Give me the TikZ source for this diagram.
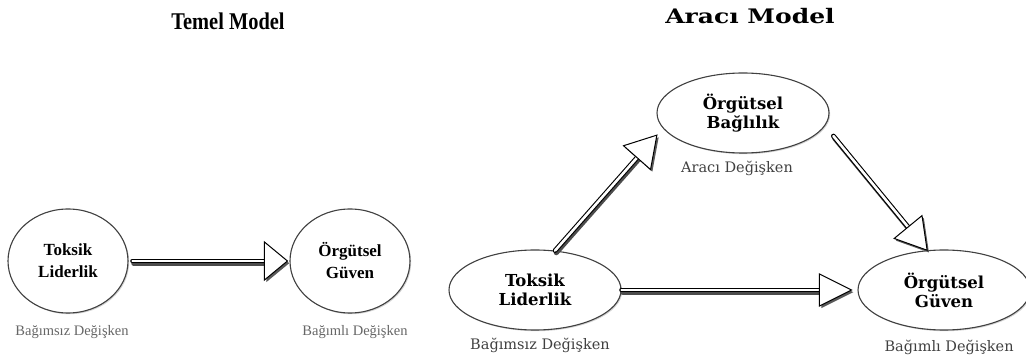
\documentclass[tikz,border=0pt]{standalone}
\usepackage{fontspec}
\setmainfont{Liberation Serif}
\newfontfamily\widefont{DejaVu Serif}
\usetikzlibrary{calc,shadows,shapes.geometric}

\tikzset{
  varnode/.style={ellipse, draw=black!75, line width=1.1pt, fill=white, inner sep=0pt, align=center,
    drop shadow={shadow xshift=1.2pt, shadow yshift=-1.2pt, opacity=0.35}},
  leftvar/.style={varnode, minimum width=120pt, minimum height=104pt,
    font=\fontsize{17}{22}\selectfont\bfseries},
  rightvar/.style={varnode, minimum width=172pt, minimum height=80pt,
    font=\widefont\fontsize{16.5}{19}\selectfont\bfseries},
  leftlabel/.style={text=black!60, font=\fontsize{14.5}{16}\selectfont},
  rightlabel/.style={text=black!75, font=\widefont\fontsize{14.5}{16}\selectfont},
  shaftline/.style={line width=1.1pt, draw=black, double=white, double distance=2.6pt, line cap=round},
  shaftshadow/.style={line width=5pt, draw=black!70, line cap=round},
  tiphead/.style={draw=black, fill=white, line width=1pt, line join=miter},
  tipshadow/.style={fill=black!65},
}

% hollow fat arrow: start, tip, head length, head half width
\newcommand{\fatarrow}[4]{%
  \coordinate (fs) at (#1);
  \coordinate (ft) at (#2);
  \coordinate (fb) at ($(ft)!#3!(fs)$);
  \coordinate (fc1) at ($(fb)!#4!90:(ft)$);
  \coordinate (fc2) at ($(fb)!#4!-90:(ft)$);
  \draw[shaftshadow] ($(fs)+(1.2,-2.2)$) -- ($(fb)+(1.2,-2.2)$);
  \fill[tipshadow] ($(ft)+(1.8,-2.2)$) -- ($(fc1)+(1.8,-2.2)$) -- ($(fc2)+(1.8,-2.2)$) -- cycle;
  \draw[shaftline] (fs) -- ($(fb)!2pt!(ft)$);
  \draw[tiphead] (ft) -- (fc1) -- (fc2) -- cycle;
}

\begin{document}
\begin{tikzpicture}[x=1pt, y=1pt]
  \useasboundingbox (0,0) rectangle (1026,356);

  % Temel Model
  \node (title1) at (228,335) {\fontsize{24}{26}\selectfont\bfseries\scalebox{0.85}[1]{Temel Model}};
  \node[leftvar] (tl1) at (68,95) {Toksik\\Liderlik};
  \node[leftvar] (og1) at (350,95) {Örgütsel\\Güven};
  \node[leftlabel] (bs1) at (72,24) {Bağımsız Değişken};
  \node[leftlabel] (bl1) at (355,24) {Bağımlı Değişken};

  \fatarrow{$(tl1.east)+(4,0)$}{$(og1.west)+(-2,0)$}{23pt}{19pt}

  % Araci Model
  \node (title2) at (750,340) {\widefont\fontsize{20}{22}\selectfont\bfseries\scalebox{1.25}[1]{Aracı Model}};
  \node[rightvar] (ob) at (743,243) {Örgütsel\\Bağlılık};
  \node[rightvar] (tl2) at (535,66) {Toksik\\Liderlik};
  \node[rightvar] (og2) at (944,66) {Örgütsel\\Güven};
  \node[rightlabel] (ad) at (737,188) {Aracı Değişken};
  \node[rightlabel] (bs2) at (540,11) {Bağımsız Değişken};
  \node[rightlabel, anchor=west] (bl2) at (881,9) {Bağımlı Değişken};

  \fatarrow{tl2.63}{$(ob.195)+(-11,-2)$}{30pt}{18pt}
  \fatarrow{$(ob.-14)+(14,-4)$}{og2.113}{30pt}{18pt}
  \fatarrow{tl2.east}{$(og2.west)+(-6,0)$}{32pt}{16pt}
\end{tikzpicture}
\end{document}
